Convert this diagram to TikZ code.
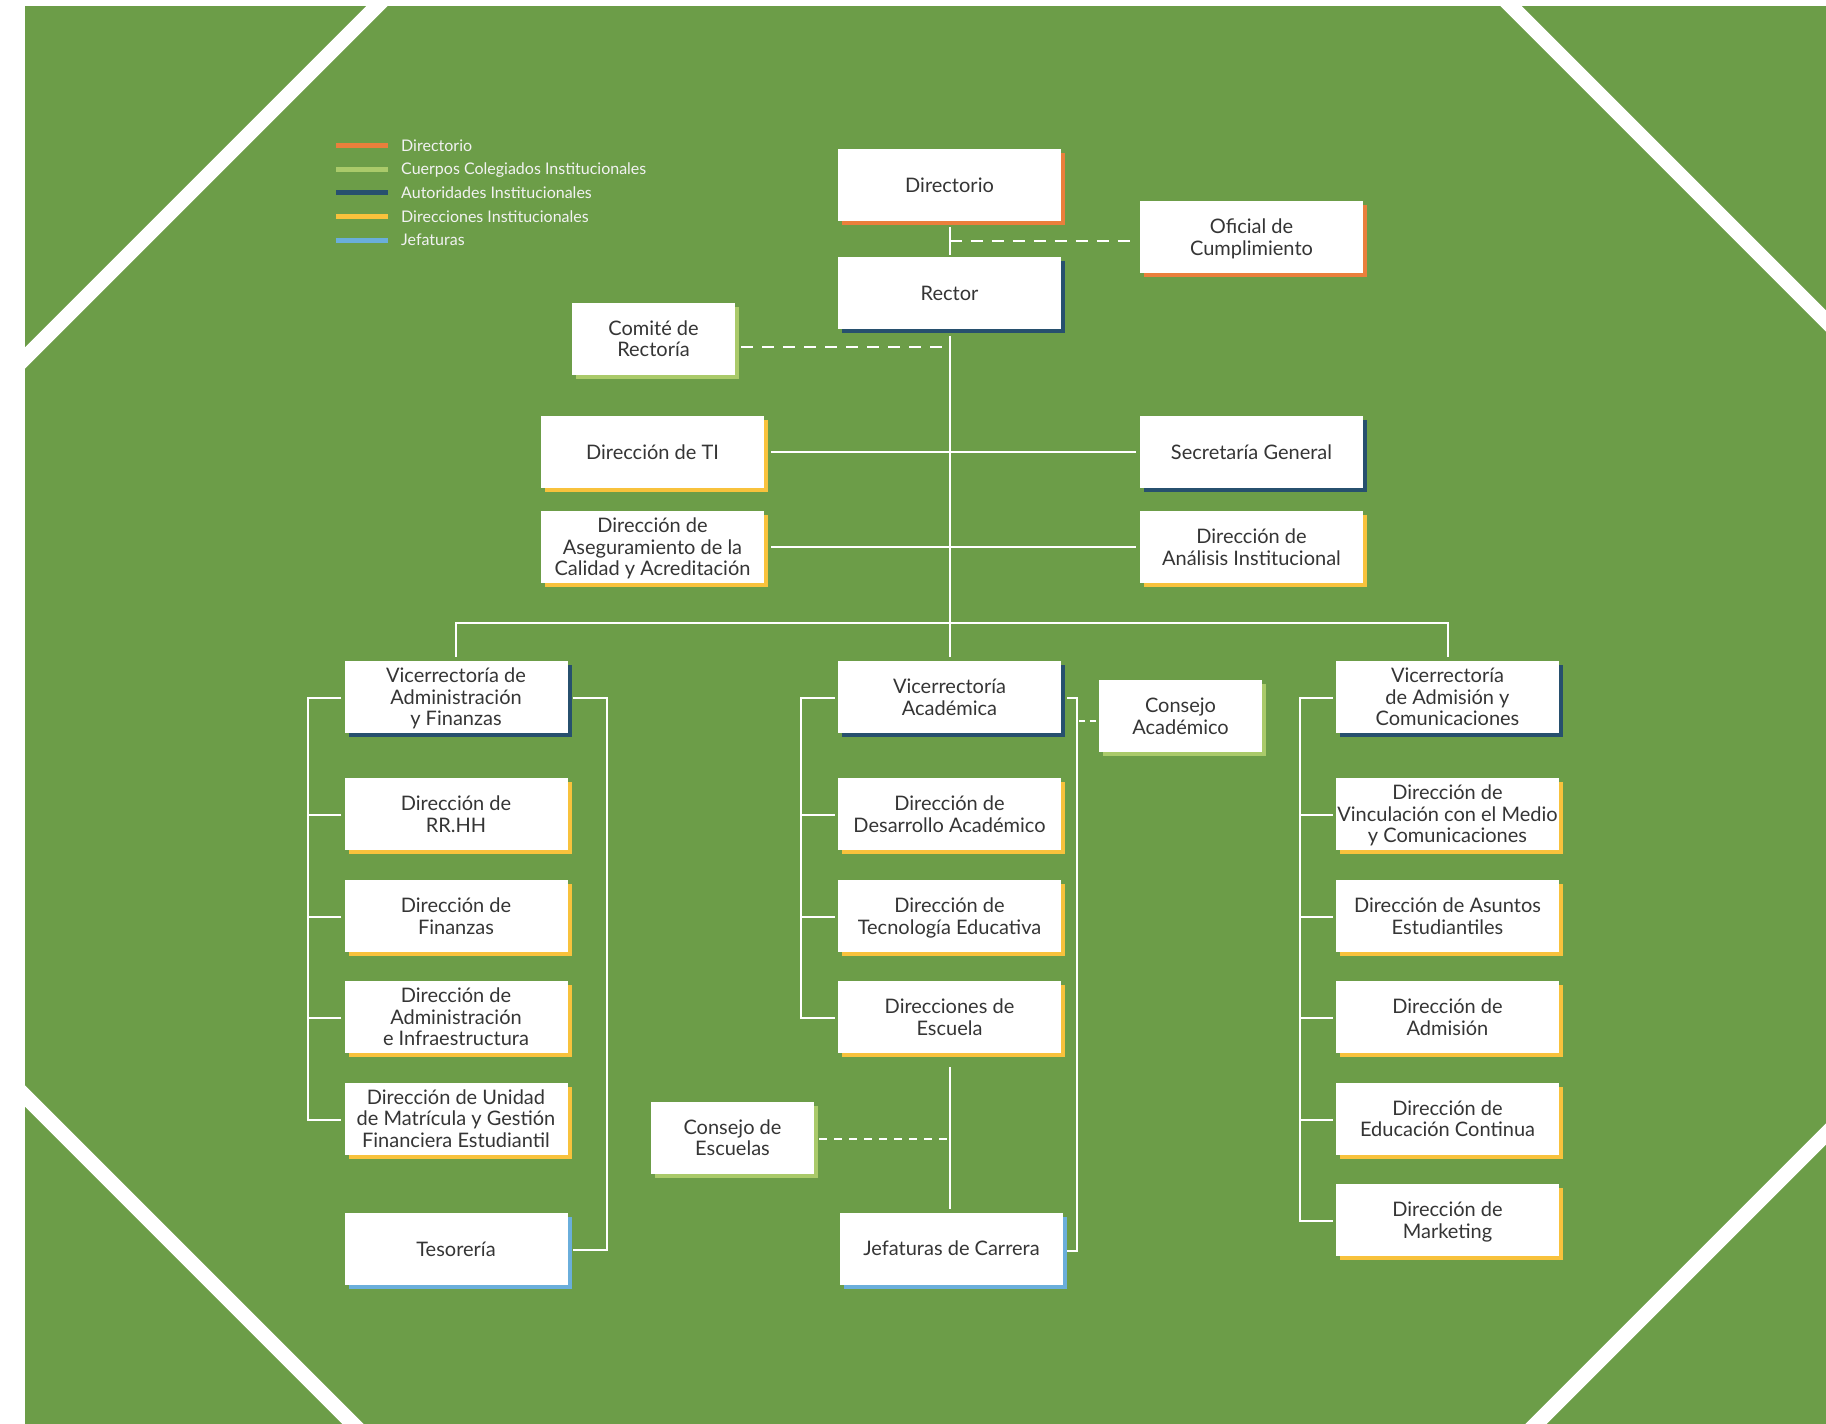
\documentclass[tikz,border=0pt]{standalone}
\usepackage{fontspec}
\setmainfont{Lato}
\usetikzlibrary{calc,shadows}
\definecolor{bgG}{HTML}{6C9D48}
\definecolor{cOr}{HTML}{EA7F3C}
\definecolor{cLg}{HTML}{AACA6A}
\definecolor{cDb}{HTML}{27506E}
\definecolor{cYe}{HTML}{F8C23C}
\definecolor{cLb}{HTML}{6AAEDB}
\definecolor{txtC}{HTML}{353535}
\definecolor{lgT}{HTML}{F2F2F2}
\newcommand\bxfont{\fontsize{20}{21.5}\selectfont}
\newcommand\lgfont{\fontsize{16}{18}\selectfont}
\begin{document}
\begin{tikzpicture}[x=1pt,y=-1pt,
  box/.style={fill=white, minimum width=223pt, minimum height=72pt, inner sep=0pt, align=center, text=txtC, font=\bxfont, text depth=0pt},
  sbox/.style={box, minimum width=163pt},
  shOr/.style={general shadow={fill=cOr, shadow xshift=4pt, shadow yshift=-4pt}},
  shLg/.style={general shadow={fill=cLg, shadow xshift=4pt, shadow yshift=-4pt}},
  shDb/.style={general shadow={fill=cDb, shadow xshift=4pt, shadow yshift=-4pt}},
  shYe/.style={general shadow={fill=cYe, shadow xshift=4pt, shadow yshift=-4pt}},
  shLb/.style={general shadow={fill=cLb, shadow xshift=4pt, shadow yshift=-4pt}},
  ln/.style={draw=white, line width=2pt},
  dashA/.style={ln, dash pattern=on 12pt off 9pt},
  dashB/.style={ln, dash pattern=on 8pt off 7pt},
  dashC/.style={ln, dash pattern=on 6pt off 5pt},
  band/.style={draw=white, line width=15pt},
  lgline/.style={line width=5pt},
  lgtext/.style={anchor=base west, inner sep=0pt, text=lgT, font=\lgfont}
]
\useasboundingbox (0,0) rectangle (1826,1424);
\fill[white] (0,0) rectangle (1826,1424);
\fill[bgG] (25,6) rectangle (1826,1424);
\begin{scope}
  \clip (25,6) rectangle (1826,1424);
  \draw[band] (383,0) -- (-20,403);
  \draw[band] (1505,0) -- (1850,345);
  \draw[band] (0,1071) -- (373,1444);
  \draw[band] (1846,1114) -- (1516,1444);
\end{scope}

% legend
\draw[lgline, cOr] (336,145.7) -- (388,145.7);
\draw[lgline, cLg] (336,169.3) -- (388,169.3);
\draw[lgline, cDb] (336,192.7) -- (388,192.7);
\draw[lgline, cYe] (336,216.7) -- (388,216.7);
\draw[lgline, cLb] (336,240.3) -- (388,240.3);
\node[lgtext] (lg1) at (401,151.3) {Directorio};
\node[lgtext] (lg2) at (401,174.9) {Cuerpos Colegiados Institucionales};
\node[lgtext] (lg3) at (401,198.3) {Autoridades Institucionales};
\node[lgtext] (lg4) at (401,222.3) {Direcciones Institucionales};
\node[lgtext] (lg5) at (401,245.9) {Jefaturas};

% top
\node[box, shOr] (dir) at (949.5,185) {Directorio};
\node[box, shOr] (ofi) at (1251.5,237) {Oficial de\\Cumplimiento};
\node[box, shDb] (rec) at (949.5,293) {Rector};
\node[sbox, shLg] (com) at (653.5,338.5) {Comité de\\Rectoría};
\node[box, shYe] (ti) at (652.5,452) {Dirección de TI};
\node[box, shDb] (sec) at (1251.5,452) {Secretaría General};
\node[box, shYe] (ase) at (652.5,547) {Dirección de\\Aseguramiento de la\\Calidad y Acreditación};
\node[box, shYe] (ana) at (1251.5,547) {Dirección de\\Análisis Institucional};

% left column
\node[box, shDb] (vaf) at (456,697) {Vicerrectoría de\\Administración\\y Finanzas};
\node[box, shYe] (rrhh) at (456,814) {Dirección de\\RR.HH};
\node[box, shYe] (fin) at (456,916) {Dirección de\\Finanzas};
\node[box, shYe] (adm) at (456,1017) {Dirección de\\Administración\\e Infraestructura};
\node[box, shYe] (mat) at (456,1118.5) {Dirección de Unidad\\de Matrícula y Gestión\\Financiera Estudiantil};
\node[box, shLb] (tes) at (456,1249) {Tesorería};

% middle column
\node[box, shDb] (va) at (949.5,697) {Vicerrectoría\\Académica};
\node[sbox, shLg] (cac) at (1180.5,716) {Consejo\\Académico};
\node[box, shYe] (dda) at (949.5,814) {Dirección de\\Desarrollo Académico};
\node[box, shYe] (dte) at (949.5,916) {Dirección de\\Tecnología Educativa};
\node[box, shYe] (des) at (949.5,1017) {Direcciones de\\Escuela};
\node[sbox, shLg] (ces) at (732.5,1137.5) {Consejo de\\Escuelas};
\node[box, shLb] (jef) at (951.5,1248.5) {Jefaturas de Carrera};

% right column
\node[box, shDb] (vac) at (1447.5,697) {Vicerrectoría\\de Admisión y\\Comunicaciones};
\node[box, shYe] (vin) at (1447.5,814) {Dirección de\\Vinculación con el Medio\\y Comunicaciones};
\node[box, shYe] (aes) at (1447.5,916) {Dirección de Asuntos\\Estudiantiles};
\node[box, shYe] (dad) at (1447.5,1017) {Dirección de\\Admisión};
\node[box, shYe] (edc) at (1447.5,1118.5) {Dirección de\\Educación Continua};
\node[box, shYe] (mkt) at (1447.5,1220) {Dirección de\\Marketing};

% connectors top
\draw[ln] ($(dir.south)+(0,6)$) -- ($(rec.north)+(0,-2)$);
\coordinate (o1) at ($(ofi.west)+(-4,4)$);
\draw[dashA] (o1 -| dir.south) -- (o1);
\draw[ln] ($(rec.south)+(0,7)$) -- ($(va.north)+(0,-4)$);
\coordinate (c1) at ($(com.east)+(6,8.5)$);
\draw[dashA] (c1) -- (c1 -| rec.south);
\draw[ln] ($(ti.east)+(7,0)$) -- ($(sec.west)+(-4,0)$);
\draw[ln] ($(ase.east)+(7,0)$) -- ($(ana.west)+(-4,0)$);
\coordinate (bus) at (949.5,623);
\draw[ln] ($(vaf.north)+(0,-4)$) -- (vaf.north |- bus) -- (vac.north |- bus) -- ($(vac.north)+(0,-4)$);

% left group
\draw[ln] ($(vaf.west)+(-3,1)$) -- ++(-33,0) |- ($(mat.west)+(-3,1)$);
\foreach \n in {rrhh,fin,adm} \draw[ln] ($(\n.west)+(-3,1)$) -- ++(-34,0);
\draw[ln] ($(vaf.east)+(5,1)$) -- ++(34,0) |- ($(tes.east)+(5,1)$);

% middle group
\draw[ln] ($(va.west)+(-3,1)$) -- ++(-34,0) |- ($(des.west)+(-3,1)$);
\foreach \n in {dda,dte} \draw[ln] ($(\n.west)+(-3,1)$) -- ++(-35,0);
\draw[ln] ($(va.east)+(6,1)$) -- ++(10,0) |- ($(jef.east)+(4,2)$);
\draw[dashC] ($(cac.west)+(-20,5)$) -- ($(cac.west)+(-2,5)$);
\draw[ln] ($(des.south)+(0,14)$) -- ($(des.south |- jef.north)+(0,-3)$);
\draw[dashB] ($(ces.east)+(5,1.5)$) -- ($(ces.east -| des.south)+(-2,1.5)$);

% right group
\draw[ln] ($(vac.west)+(-3,1)$) -- ++(-33,0) |- ($(mkt.west)+(-3,1)$);
\foreach \n in {vin,aes,dad,edc} \draw[ln] ($(\n.west)+(-3,1)$) -- ++(-34,0);
\end{tikzpicture}
\end{document}
